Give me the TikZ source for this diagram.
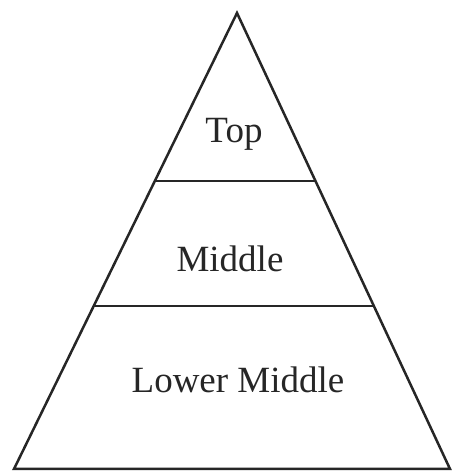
\documentclass[tikz,border=0pt]{standalone}
\usepackage{fontspec}
\setmainfont{Liberation Serif}
\usetikzlibrary{calc}
\begin{document}
\begin{tikzpicture}[x=1pt,y=1pt,
  edge/.style={draw=black!85, line width=2.5pt, line join=miter},
  lbl/.style={inner sep=0pt, anchor=base, font=\fontsize{37}{42}\selectfont, text=black!85}]
\useasboundingbox (0,0) rectangle (451,471);
\coordinate (apex) at (237,458);
\coordinate (bl) at (14,2);
\coordinate (br) at (450,2);
\draw[edge] (apex) -- (bl) -- (br) -- cycle;
\coordinate (l1) at ($(apex)!0.3684!(bl)$);
\coordinate (r1) at ($(apex)!0.3684!(br)$);
\coordinate (l2) at ($(apex)!0.6425!(bl)$);
\coordinate (r2) at ($(apex)!0.6425!(br)$);
\draw[edge] (l1) -- (r1);
\draw[edge] (l2) -- (r2);
\node[lbl] (top) at (234,328) {Top};
\node[lbl] (mid) at (230,199) {Middle};
\node[lbl] (low) at (238,78) {Lower Middle};
\end{tikzpicture}
\end{document}
